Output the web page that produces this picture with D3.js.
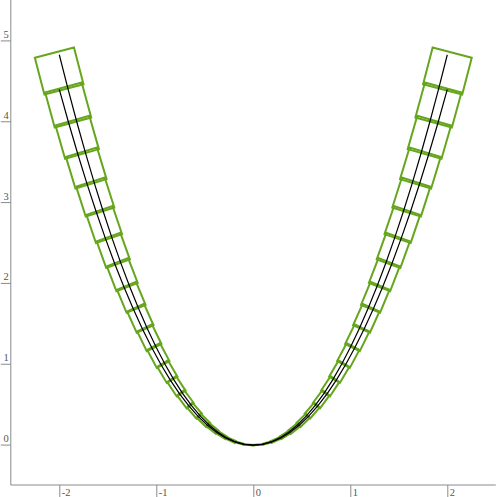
<!DOCTYPE html>
<html>
<head>
<meta charset="utf-8">
<script src="https://cdn.jsdelivr.net/npm/d3@7"></script>
<style>
  html, body { margin: 0; padding: 0; background: #fff; }
  svg { display: block; }
</style>
</head>
<body>
<div id="chart"></div>
<script>
// ---- data ----
const xTicks = [-2, -1, 0, 1, 2];
const yTicks = [0, 1, 2, 3, 4, 5];
const xValues = [-2.2,-2.1,-2.0,-1.9,-1.8,-1.7,-1.6,-1.5,-1.4,-1.3,-1.2,-1.1,-1.0,-0.9,-0.8,-0.7,-0.6,-0.5,-0.4,-0.3,-0.2,-0.1,0,
                 0.1,0.2,0.3,0.4,0.5,0.6,0.7,0.8,0.9,1.0,1.1,1.2,1.3,1.4,1.5,1.6,1.7,1.8,1.9,2.0,2.1,2.2];
const yValues = [4.84,4.41,4.00,3.61,3.24,2.89,2.56,2.25,1.96,1.69,1.44,1.21,1.00,0.81,0.64,0.49,0.36,0.25,0.16,0.09,0.04,0.01,0,
                 0.01,0.04,0.09,0.16,0.25,0.36,0.49,0.64,0.81,1.00,1.21,1.44,1.69,1.96,2.25,2.56,2.89,3.24,3.61,4.00,4.41,4.84];
// spread (box width) of each segment by outer |x| = 0.1 .. 2.2, in y units
const boxSpread = [0.005,0.013,0.025,0.038,0.054,0.071,0.090,0.110,0.131,0.154,0.178,0.202,0.228,0.254,0.282,0.311,0.341,0.371,0.402,0.435,0.468,0.500];

// ---- layout ----
const W = 497, H = 497;
const svg = d3.select("#chart").append("svg").attr("width", W).attr("height", H);

const x = d3.scaleLinear().domain([-2.5, 2.5]).range([10.8, 495.8]);
const y = d3.scaleLinear().domain([-0.5, 5.5]).range([485, 0]);

// layer scales
const xA = d3.scaleLinear().domain([-2.2, 2.2]).range([x(-2), x(2)]);
const xB = d3.scaleLinear().domain([-2.1, 2.1]).range([x(-2), x(2)]);
const xBox = d3.scaleLinear().domain([-2.2, 2.2]).range([x(-2.045), x(2.045)]);
const yLayer = d3.scaleLinear().domain([-0.5, 5.5]).range([485.5, 1.5]);

const axisColor = "#8a8a8a";
const textColor = "#555";
const font = "Liberation Serif";

// axes
const gx = svg.append("g").attr("transform", `translate(0,${y.range()[0]})`)
  .call(d3.axisBottom(x).tickValues(xTicks).tickSize(12).tickFormat(d => String(d)));
const gy = svg.append("g").attr("transform", `translate(${x.range()[0]},0)`)
  .call(d3.axisLeft(y).tickValues(yTicks).tickSize(10).tickFormat(d => String(d)));
[gx, gy].forEach(g => {
  g.attr("font-family", font).attr("font-size", 10.5);
  g.select(".domain").remove();
  g.selectAll(".tick line").attr("stroke", axisColor);
  g.selectAll(".tick text").attr("fill", textColor);
});
svg.append("line").attr("x1", x.range()[0]).attr("x2", x.range()[1]).attr("y1", y.range()[0]).attr("y2", y.range()[0]).attr("stroke", axisColor);
svg.append("line").attr("x1", x.range()[0]).attr("x2", x.range()[0]).attr("y1", 0).attr("y2", y.range()[0]).attr("stroke", axisColor);
gx.selectAll(".tick text").attr("text-anchor", "start").attr("x", 2).attr("y", 10.5).attr("dy", 0);
gy.selectAll(".tick text").attr("text-anchor", "end").attr("x", -2).attr("y", -3).attr("dy", 0);

// boxes
const gBox = svg.append("g");
const n = xValues.length;
const mid = xValues.indexOf(0);
for (let i = 0; i < n - 1; i++) {
  const outer = i < mid ? i : i + 1;
  const inner = i < mid ? i + 1 : i;
  const p0 = [xBox(xValues[inner]), yLayer(yValues[inner])];
  const p1 = [xBox(xValues[outer]), yLayer(yValues[outer])];
  const k = Math.abs(outer - mid) - 1;
  const w = (y(0) - y(boxSpread[k])) / 2;
  const dx = p1[0] - p0[0], dy = p1[1] - p0[1];
  const L = Math.hypot(dx, dy);
  const ux = dx / L, uy = dy / L;
  const nx = -uy, ny = ux;
  const e0 = 0, e1 = L * 0.06;
  const a = [p0[0] - ux * e0, p0[1] - uy * e0];
  const b = [p1[0] + ux * e1, p1[1] + uy * e1];
  const pts = [
    [a[0] + nx * w, a[1] + ny * w],
    [b[0] + nx * w, b[1] + ny * w],
    [b[0] - nx * w, b[1] - ny * w],
    [a[0] - nx * w, a[1] - ny * w]
  ];
  gBox.append("polygon").attr("points", pts.map(p => p.join(",")).join(" "))
    .attr("fill", "none").attr("stroke", "#66a61e").attr("stroke-width", 2)
    .attr("stroke-linejoin", "miter");
}

// lines
const lineA = d3.line().x((d, i) => xA(xValues[i])).y((d, i) => yLayer(yValues[i]));
svg.append("path").datum(xValues).attr("d", lineA).attr("fill", "none").attr("stroke", "#000").attr("stroke-width", 1.2);
const idxB = d3.range(1, n - 1);
const lineB = d3.line().x(i => xB(xValues[i])).y(i => yLayer(yValues[i]));
svg.append("path").datum(idxB).attr("d", lineB).attr("fill", "none").attr("stroke", "#000").attr("stroke-width", 1.2);
</script>
</body>
</html>
